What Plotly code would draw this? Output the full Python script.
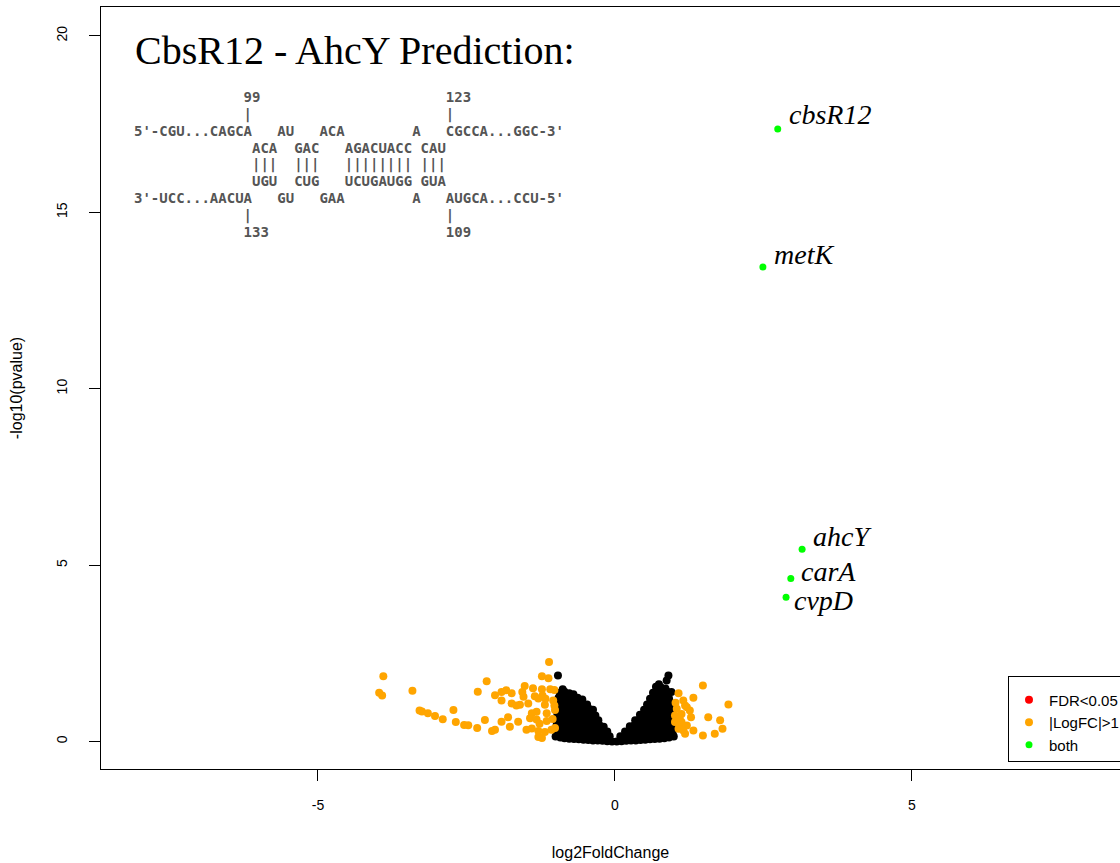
import plotly.graph_objects as go

# ---------------- data ----------------
title_text = "CbsR12 - AhcY Prediction:"

seq_lines = [
    " " * 13 + "99" + " " * 22 + "123",
    " " * 13 + "|" + " " * 23 + "|",
    "5'-CGU...CAGCA   AU   ACA        A   CGCCA...GGC-3'",
    " " * 14 + "ACA  GAC   AGACUACC CAU",
    " " * 14 + "|||  |||   |||||||| |||",
    " " * 14 + "UGU  CUG   UCUGAUGG GUA",
    "3'-UCC...AACUA   GU   GAA        A   AUGCA...CCU-5'",
    " " * 13 + "|" + " " * 23 + "|",
    " " * 13 + "133" + " " * 21 + "109",
]

# not significant genes (black)
black_x = [
    -1.00, -0.92, -0.85, -0.77, -0.69, -0.61, -0.53, -0.45, -0.37, -0.29, -0.21, -0.13, -0.05,
    0.03, 0.11, 0.19, 0.27, 0.35, 0.43, 0.51, 0.59, 0.67, 0.75, 0.83, 0.91, 0.99,
    -0.97, -0.89, -0.81, -0.73, -0.65, -0.57, -0.49, -0.41, -0.33, -0.25, -0.17, -0.09,
    0.09, 0.17, 0.25, 0.33, 0.41, 0.49, 0.57, 0.65, 0.73, 0.81, 0.89, 0.97,
    -1.00, -0.92, -0.84, -0.76, -0.68, -0.60, -0.52, -0.44, -0.36, -0.28, -0.20, -0.13,
    0.17, 0.25, 0.33, 0.41, 0.49, 0.57, 0.65, 0.73, 0.81, 0.89, 0.97,
    -0.98, -0.90, -0.82, -0.74, -0.66, -0.58, -0.50, -0.42, -0.34, -0.26, -0.19,
    0.25, 0.33, 0.41, 0.49, 0.57, 0.65, 0.73, 0.81, 0.89, 0.97,
    -1.00, -0.92, -0.84, -0.76, -0.68, -0.60, -0.52, -0.44, -0.36, -0.28,
    0.34, 0.42, 0.50, 0.58, 0.66, 0.74, 0.82, 0.90, 0.98,
    -0.97, -0.89, -0.81, -0.73, -0.65, -0.57, -0.49, -0.41, -0.33,
    0.42, 0.50, 0.58, 0.66, 0.74, 0.82, 0.90, 0.97,
    -0.99, -0.91, -0.83, -0.75, -0.67, -0.59, -0.51, -0.43, -0.37,
    0.49, 0.57, 0.65, 0.73, 0.81, 0.89, 0.96,
    -0.96, -0.88, -0.80, -0.72, -0.64, -0.56, -0.47,
    0.54, 0.62, 0.70, 0.78, 0.86, 0.94,
    -0.95, -0.87, -0.79, -0.71, -0.63, -0.55,
    0.59, 0.67, 0.75, 0.83, 0.91,
    -0.93, -0.85, -0.77, -0.70,
    0.64, 0.72, 0.80, 0.88, 0.95,
    -0.88, -0.96, 0.69, 0.77, 0.85, 0.87, 0.90, 0.74,
]
black_y = [
    0.14, 0.11, 0.09, 0.08, 0.07, 0.06, 0.05, 0.04, 0.03, 0.03, 0.02, 0.01, 0.00,
    0.00, 0.01, 0.02, 0.03, 0.03, 0.04, 0.05, 0.06, 0.07, 0.08, 0.09, 0.11, 0.14,
    0.24, 0.18, 0.19, 0.17, 0.18, 0.16, 0.19, 0.17, 0.18, 0.16, 0.17, 0.15,
    0.15, 0.18, 0.17, 0.19, 0.16, 0.18, 0.17, 0.19, 0.16, 0.18, 0.17, 0.23,
    0.34, 0.31, 0.33, 0.32, 0.35, 0.31, 0.33, 0.34, 0.32, 0.33, 0.31, 0.28,
    0.28, 0.33, 0.32, 0.34, 0.31, 0.33, 0.35, 0.32, 0.34, 0.31, 0.33,
    0.49, 0.47, 0.48, 0.50, 0.46, 0.48, 0.47, 0.49, 0.48, 0.46, 0.42,
    0.43, 0.47, 0.49, 0.48, 0.46, 0.48, 0.50, 0.47, 0.48, 0.49,
    0.62, 0.64, 0.63, 0.61, 0.64, 0.62, 0.63, 0.61, 0.63, 0.60,
    0.60, 0.64, 0.62, 0.63, 0.61, 0.64, 0.62, 0.63, 0.62,
    0.78, 0.77, 0.79, 0.76, 0.78, 0.80, 0.77, 0.78, 0.74,
    0.76, 0.79, 0.77, 0.78, 0.80, 0.77, 0.79, 0.78,
    0.92, 0.94, 0.93, 0.95, 0.92, 0.94, 0.93, 0.92, 0.90,
    0.90, 0.94, 0.93, 0.95, 0.92, 0.94, 0.93,
    1.08, 1.10, 1.07, 1.09, 1.08, 1.10, 1.05,
    1.05, 1.09, 1.08, 1.10, 1.07, 1.09,
    1.24, 1.22, 1.25, 1.23, 1.24, 1.19,
    1.21, 1.25, 1.23, 1.26, 1.22,
    1.38, 1.41, 1.37, 1.34,
    1.38, 1.42, 1.39, 1.41, 1.40,
    1.48, 1.87, 1.55, 1.54, 1.50, 1.73, 1.87, 1.62,
]

# |LogFC| > 1 (orange)
orange_x = [
    -3.90, -3.97, -3.92, -3.41, -3.29, -3.25, -3.15, -3.03, -2.90, -2.72,
    -2.68, -2.54, -2.47, -2.32, -2.19, -2.31, -2.16, -2.02, -2.07, -2.02,
    -1.11, -1.23, -1.12, -1.52, -1.38, -1.23, -1.09, -1.02, -1.91, -1.83,
    -1.74, -1.54, -1.91, -1.74, -1.60, -1.35, -1.29, -1.22, -1.17, -1.46,
    -1.18, -1.04, -1.32, -1.40, -1.15, -1.01, -1.80, -1.63, -1.91, -1.77,
    -1.43, -1.32, -1.27, -1.15, -1.49, -1.40, -1.29, -1.18, -1.07, -1.01,
    -1.29, -1.23, -1.05, -1.02, -1.56, -1.66,
    1.48, 1.91, 1.32, 1.07, 1.15, 1.18, 1.04, 1.26, 1.28, 1.57,
    1.77, 1.81, 1.68, 1.48, 1.32, 1.18, 1.09, 1.21, 1.01, 1.07,
    1.15, 1.01, 1.12, 1.21, 1.09, 1.02, 1.12,
]
orange_y = [
    1.85, 1.38, 1.30, 1.44, 0.88, 0.85, 0.80, 0.72, 0.63, 0.89,
    0.55, 0.47, 0.46, 0.38, 0.61, 1.41, 1.71, 1.31, 0.30, 0.33,
    2.25, 1.85, 1.79, 1.57, 1.51, 1.48, 1.48, 1.46, 1.40, 1.45,
    1.37, 1.27, 1.16, 1.08, 1.04, 1.28, 1.22, 1.30, 1.21, 1.08,
    1.04, 1.16, 0.84, 0.80, 0.80, 0.89, 0.69, 0.56, 0.56, 0.42,
    0.66, 0.62, 0.50, 0.58, 0.33, 0.37, 0.30, 0.27, 0.33, 0.38,
    0.13, 0.10, 0.64, 1.02, 1.40, 1.02,
    1.59, 1.05, 1.24, 1.37, 1.16, 1.02, 0.93, 0.88, 0.69, 0.69,
    0.60, 0.36, 0.22, 0.17, 0.31, 0.22, 0.45, 0.45, 0.55, 0.36,
    0.31, 0.74, 0.78, 0.97, 0.64, 1.10, 0.55,
]

# FDR < 0.05 and |LogFC| > 1 (green)
green_genes = ["cbsR12", "metK", "ahcY", "carA", "cvpD"]
green_x = [2.74, 2.49, 3.15, 2.96, 2.88]
green_y = [17.36, 13.45, 5.45, 4.62, 4.09]

legend_names = ["FDR<0.05", "|LogFC|>1", "both"]

x_ticks = [-5, 0, 5]
y_ticks = [0, 5, 10, 15, 20]

# ---------------- layout geometry (pixels) ----------------
W, H = 1120, 863
PL, PR, PT, PB = 101, 1120, 7, 769


def px_x(px):
    return (px - PL) / (PR - PL)


def px_y(py):
    return (PB - py) / (PB - PT)


fig = go.Figure()

fig.add_trace(go.Scatter(
    x=black_x, y=black_y, mode="markers",
    marker=dict(color="black", size=8), showlegend=False, hoverinfo="skip"))

fig.add_trace(go.Scatter(
    x=[None], y=[None], mode="markers", name=legend_names[0],
    marker=dict(color="#FF0000", size=8)))

fig.add_trace(go.Scatter(
    x=orange_x, y=orange_y, mode="markers", name=legend_names[1],
    marker=dict(color="#FFA500", size=8)))

fig.add_trace(go.Scatter(
    x=green_x, y=green_y, mode="markers", name=legend_names[2],
    marker=dict(color="#00FF00", size=7)))

# gene labels (italic serif), offset right/up of each point
label_shift = {
    "cbsR12": (9, 15),
    "metK": (9, 13),
    "ahcY": (9, 13),
    "carA": (8, 7),
    "cvpD": (6, -3),
}
for g, gx, gy in zip(green_genes, green_x, green_y):
    dx, dy = label_shift[g]
    fig.add_annotation(
        x=gx, y=gy, xref="x", yref="y", text=g, showarrow=False,
        xanchor="left", yanchor="middle", xshift=dx, yshift=dy,
        font=dict(family="Liberation Serif, Times New Roman, serif",
                  size=28, color="black", style="italic"))

# title
fig.add_annotation(
    x=px_x(133), y=px_y(51), xref="paper", yref="paper", text=title_text,
    showarrow=False, xanchor="left", yanchor="middle",
    font=dict(family="Liberation Serif, Times New Roman, serif", size=40,
              color="black"))

# interaction diagram text
line_centers = [97, 114.5, 131, 148, 164.5, 181, 198, 215.5, 232]
for line, cy in zip(seq_lines, line_centers):
    fig.add_annotation(
        x=px_x(132), y=px_y(cy), xref="paper", yref="paper",
        text=line.replace(" ", "\u00a0"), showarrow=False,
        xanchor="left", yanchor="middle",
        font=dict(family="DejaVu Sans Mono, monospace", size=14,
                  color="#555555", weight="bold"))

axis_font = dict(family="Liberation Sans, Arial, sans-serif", size=14,
                 color="black")
title_font = dict(family="Liberation Sans, Arial, sans-serif", size=16,
                  color="black")

fig.update_layout(
    width=W, height=H,
    margin=dict(l=PL, r=W - PR, t=PT, b=H - PB, autoexpand=False),
    paper_bgcolor="white", plot_bgcolor="white",
    showlegend=True,
    legend=dict(
        x=px_x(1008), y=px_y(676), xanchor="left", yanchor="top",
        bordercolor="black", borderwidth=1, bgcolor="white",
        font=dict(family="Liberation Sans, Arial, sans-serif", size=15,
                  color="black"),
        title=dict(text="\u00a0", font=dict(size=5)),
        traceorder="normal"),
    xaxis=dict(
        range=[-8.653, 8.502], tickvals=x_ticks, ticktext=[str(v) for v in x_ticks],
        showgrid=False, zeroline=False, showline=True, linecolor="black",
        linewidth=1, mirror=True, ticks="outside", ticklen=11,
        tickcolor="black", tickwidth=1, tickfont=axis_font,
        ticklabelstandoff=12,
        title=dict(text="log2FoldChange", font=title_font, standoff=35)),
    yaxis=dict(
        range=[-0.78, 20.82], tickvals=y_ticks, ticktext=[str(v) for v in y_ticks],
        showgrid=False, zeroline=False, showline=True, linecolor="black",
        linewidth=1, ticks="outside", ticklen=11, tickcolor="black",
        tickwidth=1, tickfont=axis_font, tickangle=-90,
        ticklabelstandoff=16,
        title=dict(text="-log10(pvalue)", font=title_font, standoff=27)),
)

fig.write_html("out.html",
               config={"displayModeBar": False},
               post_script="document.body.style.margin='0';")
